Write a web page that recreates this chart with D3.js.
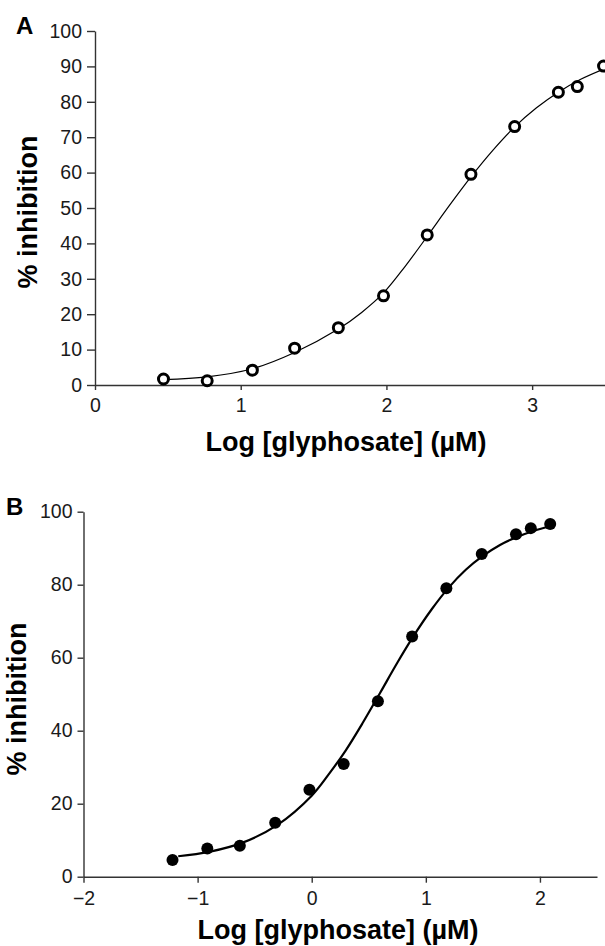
<!DOCTYPE html>
<html lang="en">
<head>
    <meta charset="UTF-8">
    <title>Glyphosate inhibition curves - D3.js</title>
    <script src="https://d3js.org/d3.v7.min.js"></script>
    <style>
        body {
            margin: 0;
            padding: 0;
            background: #fff;
        }

        svg {
            display: block;
            font-family: Arial, "Liberation Sans", sans-serif;
        }

        /* axes */
        .axis path,
        .axis line {
            stroke: #333;
            stroke-width: 1.4;
        }

        .axis text {
            font-size: 19.5px;
            fill: #1a1a1a;
        }

        .panel-letter {
            font-size: 24px;
            font-weight: bold;
        }

        .axis-title {
            font-size: 27px;
            font-weight: bold;
            text-anchor: middle;
        }
    </style>
</head>
<body>
    <script>
        // Panel A data: log [glyphosate] (µM) and % inhibition
        const logConcA = [0.47, 0.77, 1.08, 1.37, 1.67, 1.98, 2.28, 2.58, 2.88, 3.18, 3.31, 3.49];
        const inhibitionA = [1.7, 1.2, 4.2, 10.4, 16.2, 25.2, 42.4, 59.5, 73.0, 82.7, 84.3, 90.1];
        // fitted curve of panel A
        const curveXA = [0.47, 0.77, 1.08, 1.37, 1.67, 1.83, 1.98, 2.13, 2.28, 2.43, 2.58, 2.73, 2.88, 3.03, 3.18, 3.33, 3.5];
        const curveYA = [1.5, 2.3, 4.6, 9.2, 15.8, 20.5, 26.0, 33.6, 42.0, 50.6, 58.8, 66.3, 72.9, 78.3, 82.7, 86.3, 89.4];
        const xTicksA = [0, 1, 2, 3];
        const yTicksA = [0, 10, 20, 30, 40, 50, 60, 70, 80, 90, 100];

        // Panel B data
        const logConcB = [-1.22, -0.915, -0.63, -0.32, -0.02, 0.28, 0.58, 0.88, 1.18, 1.49, 1.79, 1.92, 2.09];
        const inhibitionB = [4.6, 7.7, 8.5, 14.8, 23.8, 30.9, 48.1, 65.8, 79.0, 88.4, 93.8, 95.5, 96.6];
        const curveXB = [-1.17, -0.9, -0.6, -0.3, 0, 0.15, 0.3, 0.45, 0.6, 0.75, 0.9, 1.05, 1.2, 1.35, 1.5, 1.65, 1.8, 1.95, 2.09];
        const curveYB = [5.6, 6.8, 9.4, 14.2, 22.2, 28.1, 34.7, 42.3, 50.4, 58.6, 66.3, 73.2, 79.2, 84.1, 87.9, 90.9, 93.1, 94.8, 96.0];
        const xTicksB = [-2, -1, 0, 1, 2];
        const yTicksB = [0, 20, 40, 60, 80, 100];

        const width = 605;
        const height = 946;

        const svg = d3.select("body")
            .append("svg")
            .attr("width", width)
            .attr("height", height);

        // draws one panel
        function drawPanel(cfg) {
            const x = d3.scaleLinear().domain(cfg.xDomain).range([cfg.left, cfg.right]);
            const y = d3.scaleLinear().domain([0, 100]).range([cfg.bottom, cfg.top]);

            const g = svg.append("g");

            g.append("g")
                .attr("class", "axis")
                .attr("transform", `translate(0,${cfg.bottom})`)
                .call(d3.axisBottom(x)
                    .tickValues(cfg.xTicks)
                    .tickFormat(d3.format("d"))
                    .tickSizeInner(cfg.xTickSize)
                    .tickSizeOuter(0)
                    .tickPadding(8));

            g.append("g")
                .attr("class", "axis")
                .attr("transform", `translate(${cfg.left},0)`)
                .call(d3.axisLeft(y)
                    .tickValues(cfg.yTicks)
                    .tickSizeInner(cfg.yTickSize)
                    .tickSizeOuter(0)
                    .tickPadding(5));

            // fitted curve
            const line = d3.line()
                .x(d => x(d[0]))
                .y(d => y(d[1]))
                .curve(d3.curveCatmullRom.alpha(0.5));

            g.append("path")
                .datum(d3.zip(cfg.curveX, cfg.curveY))
                .attr("d", line)
                .attr("fill", "none")
                .attr("stroke", "#000")
                .attr("stroke-width", cfg.lineWidth);

            // data points
            g.selectAll(".pt")
                .data(d3.zip(cfg.xs, cfg.ys))
                .enter()
                .append("circle")
                .attr("class", "pt")
                .attr("cx", d => x(d[0]))
                .attr("cy", d => y(d[1]))
                .attr("r", cfg.r)
                .attr("fill", cfg.filled ? "#000" : "#fff")
                .attr("stroke", "#000")
                .attr("stroke-width", cfg.filled ? 0 : 3);

            // panel letter
            g.append("text")
                .attr("class", "panel-letter")
                .attr("x", cfg.letterX)
                .attr("y", cfg.letterY)
                .text(cfg.letter);

            // axis titles
            g.append("text")
                .attr("class", "axis-title")
                .attr("x", cfg.xTitleX)
                .attr("y", cfg.xTitleY)
                .text("Log [glyphosate] (\u00b5M)");

            g.append("text")
                .attr("class", "axis-title")
                .attr("transform", `translate(${cfg.yTitleX},${cfg.yTitleY}) rotate(-90)`)
                .text("% inhibition");
        }

        drawPanel({
            letter: "A", letterX: 16, letterY: 34,
            xDomain: [0, 3.5], left: 95, right: 605, top: 31, bottom: 385,
            xTicks: xTicksA, yTicks: yTicksA, xTickSize: 5, yTickSize: 8,
            xs: logConcA, ys: inhibitionA, curveX: curveXA, curveY: curveYA,
            r: 5, filled: false, lineWidth: 1.2,
            xTitleX: 346, xTitleY: 451, yTitleX: 37, yTitleY: 212
        });

        drawPanel({
            letter: "B", letterX: 6, letterY: 515,
            xDomain: [-2, 2.5], left: 83.5, right: 597, top: 511.7, bottom: 876.7,
            xTicks: xTicksB, yTicks: yTicksB, xTickSize: 6, yTickSize: 6,
            xs: logConcB, ys: inhibitionB, curveX: curveXB, curveY: curveYB,
            r: 6, filled: true, lineWidth: 2.2,
            xTitleX: 338, xTitleY: 939, yTitleX: 26, yTitleY: 699
        });
    </script>
</body>
</html>
